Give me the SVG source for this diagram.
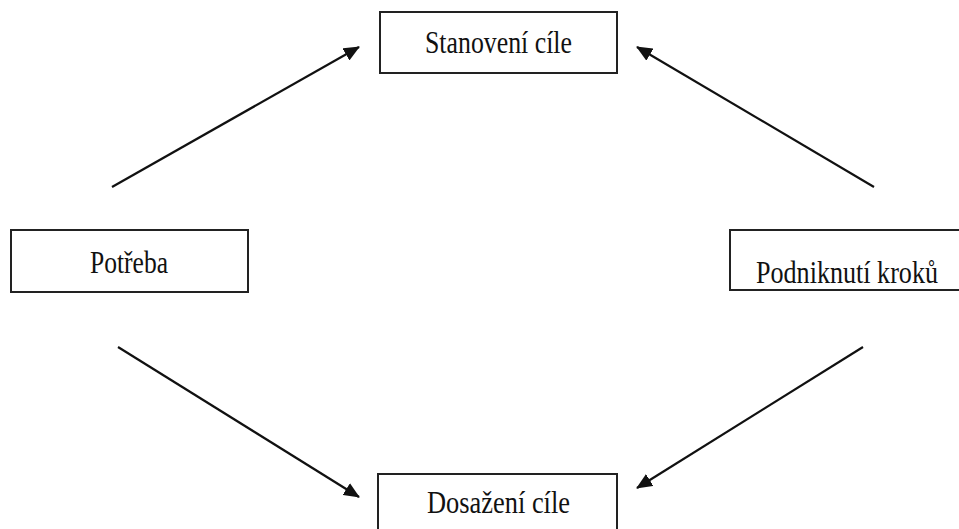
<svg xmlns="http://www.w3.org/2000/svg" width="959" height="529" viewBox="0 0 959 529">
<style>
.box{fill:#fff;stroke:#222;stroke-width:2}
.lbl{font-family:"Liberation Serif","Times New Roman",serif;font-size:32px;fill:#111;text-anchor:middle}
.arr{stroke:#111;stroke-width:2.2;fill:none;marker-end:url(#ah)}
</style>
<defs>
<marker id="ah" markerUnits="userSpaceOnUse" markerWidth="16" markerHeight="14" refX="15" refY="7" orient="auto" viewBox="0 0 16 14">
<path d="M0,0 L16,7 L0,14 Z" fill="#111"/>
</marker>
</defs>
<rect width="959" height="529" fill="#fff"/>
<g id="n-stanoveni">
<rect class="box" x="380" y="12" width="237" height="61"/>
<text class="lbl" x="498.5" y="53" textLength="147" lengthAdjust="spacingAndGlyphs">Stanovení cíle</text>
</g>
<g id="n-potreba">
<rect class="box" x="11" y="230" width="237" height="62"/>
<text class="lbl" x="129" y="273" textLength="78" lengthAdjust="spacingAndGlyphs">Potřeba</text>
</g>
<g id="n-podniknuti">
<path class="box" d="M959,230 H730 V290 H959"/>
<text class="lbl" x="847" y="283" textLength="182" lengthAdjust="spacingAndGlyphs">Podniknutí kroků</text>
</g>
<g id="n-dosazeni">
<path class="box" d="M378,529 V474 H617 V529"/>
<text class="lbl" x="498.5" y="513" textLength="143" lengthAdjust="spacingAndGlyphs">Dosažení cíle</text>
</g>
<g id="connectors">
<line class="arr" x1="112" y1="187" x2="359" y2="47"/>
<line class="arr" x1="874" y1="187" x2="637" y2="47"/>
<line class="arr" x1="118" y1="347" x2="359" y2="497"/>
<line class="arr" x1="863" y1="347" x2="637" y2="488"/>
</g>
</svg>
